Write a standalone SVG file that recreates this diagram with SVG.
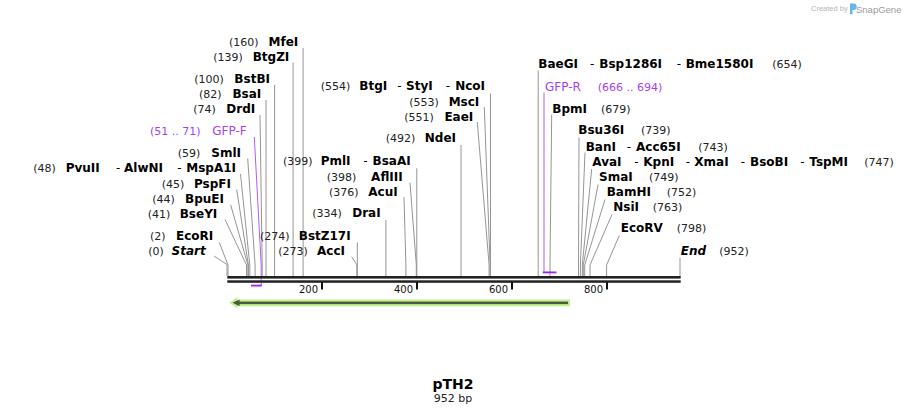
<svg xmlns="http://www.w3.org/2000/svg" width="908" height="415" viewBox="0 0 908 415">
<style>
text{font-family:"DejaVu Sans",Verdana,sans-serif}
.n{font-size:11px;fill:#222}
.e{font-size:12px;font-weight:bold;fill:#000}
.s{font-size:12px;fill:#000}
.i{font-size:12px;font-weight:bold;font-style:italic;fill:#000}
.p{font-size:12px;fill:#a43ff2}
.pn{font-size:11px;fill:#a43ff2}
.t{font-size:10px;fill:#111}
.l{stroke:#959595;stroke-width:1;fill:none}
.pl{stroke:#b05cf4;stroke-width:1;fill:none}
.r{text-anchor:end}
</style>
<rect width="908" height="415" fill="#fff"/>

<g id="watermark">
<text x="811" y="10.5" style="font-family:'Liberation Sans',Arial,sans-serif;font-size:7.5px;fill:#b5b5b5">Created by</text>
<path d="M850,3.5 h3.5 a3.2,3.2 0 0 1 0,6.4 h-1 v4.3 h-2.5 z" fill="#62b6ea"/>
<text x="856" y="12.5" style="font-family:'Liberation Sans',Arial,sans-serif;font-size:9.5px;fill:#9a9a9a">SnapGene</text>
</g>

<g id="connectors">
<polyline class="l" points="303.1,48 303.1,276"/>
<polyline class="l" points="293.1,62.5 293.1,276"/>
<polyline class="l" points="274.6,85 274.6,276"/>
<polyline class="l" points="266,100 266,276"/>
<polyline class="l" points="260,115 262.2,265 262.2,276"/>
<polyline class="l" points="247.7,158.5 255.1,265 255.1,276"/>
<polyline class="l" points="240.5,174 249.8,265 249.8,276"/>
<polyline class="l" points="236.7,189.5 248.4,265 248.4,276"/>
<polyline class="l" points="230.7,205 247.9,265 247.9,276"/>
<polyline class="l" points="225,219.5 246.5,265 246.5,276"/>
<polyline class="l" points="219.3,242.5 228,265 228,276"/>
<polyline class="l" points="214,256 227,264.5 227,276"/>
<polyline class="l" points="357.3,242.5 357.3,276"/>
<polyline class="l" points="351.7,256.7 356.9,265 356.9,276"/>
<polyline class="l" points="385.9,220 385.9,276"/>
<polyline class="l" points="404,197 405.9,265 405.9,276"/>
<polyline class="l" points="410,182.7 416.3,265 416.3,276"/>
<polyline class="l" points="416.8,168.3 416.8,276"/>
<polyline class="l" points="461,145 461,276"/>
<polyline class="l" points="477.3,122 489.1,265 489.1,276"/>
<polyline class="l" points="484.3,107 490.1,265 490.1,276"/>
<polyline class="l" points="490.5,93.5 490.5,276"/>
<polyline class="l" points="538.2,70.5 538.2,276"/>
<polyline class="l" points="551.7,114.5 550,265 550,276"/>
<polyline class="l" points="579,137.5 578.5,265 578.5,276"/>
<polyline class="l" points="585,152.5 580.4,265 580.4,276"/>
<polyline class="l" points="591.7,169 582.3,265 582.3,276"/>
<polyline class="l" points="598,184.5 583.3,265 583.3,276"/>
<polyline class="l" points="605,199.5 584.7,265 584.7,276"/>
<polyline class="l" points="612,214.5 590,265 590,276"/>
<polyline class="l" points="619.3,235.5 606.6,265 606.6,276"/>
<polyline class="l" points="680,258 680,276"/>
<polyline class="pl" points="254.3,137 261.2,265 261.2,286"/>
<polyline class="pl" points="544,92.5 544,272"/>
</g>

<g id="sequence">
<rect x="227.3" y="276" width="453.4" height="2.6" fill="#222"/>
<rect x="227.3" y="280.3" width="453.4" height="2.5" fill="#222"/>
<rect x="321" y="282" width="2" height="7.5" fill="#111"/>
<rect x="416" y="282" width="2" height="7.5" fill="#111"/>
<rect x="511" y="282" width="2" height="7.5" fill="#111"/>
<rect x="606" y="282" width="2" height="7.5" fill="#111"/>
<text class="t r" x="318" y="292.5">200</text>
<text class="t r" x="413" y="292.5">400</text>
<text class="t r" x="508" y="292.5">600</text>
<text class="t r" x="603" y="292.5">800</text>
</g>

<g id="primer-GFP-F">
<line x1="251" y1="285.6" x2="261.7" y2="285.6" stroke="#a020f0" stroke-width="1.8"/>
<text class="pn" x="150" y="135">(51 .. 71)</text>
<text class="p r" x="246.7" y="135">GFP-F</text>
</g>
<g id="primer-GFP-R">
<line x1="542.8" y1="272.4" x2="556.5" y2="272.4" stroke="#a020f0" stroke-width="1.8"/>
<text class="p" x="545" y="90.7">GFP-R</text>
<text class="pn" x="597.7" y="90.7">(666 .. 694)</text>
</g>

<g id="feature-arrow">
<polygon points="229.5,302.8 237.5,296.8 237.5,299.4 570,299.4 570,306.2 237.5,306.2 237.5,308.8" fill="#c2f08e"/>
<polygon points="232.5,302.8 239.5,299.4 239.5,306.2" fill="#4b5943"/>
<rect x="238" y="301.6" width="330" height="2.5" fill="#4b5943"/>
</g>

<g id="MfeI"><text class="n" x="229" y="46">(160)</text><text class="e r" x="298.3" y="46">MfeI</text></g>
<g id="BtgZI"><text class="n" x="213.3" y="60.7">(139)</text><text class="e r" x="289.3" y="60.7">BtgZI</text></g>
<g id="BstBI"><text class="n" x="194.3" y="83.3">(100)</text><text class="e r" x="270" y="83.3">BstBI</text></g>
<g id="BsaI"><text class="n" x="199" y="98.3">(82)</text><text class="e r" x="261.3" y="98.3">BsaI</text></g>
<g id="DrdI"><text class="n" x="193.3" y="113.3">(74)</text><text class="e r" x="255.3" y="113.3">DrdI</text></g>
<g id="SmlI"><text class="n" x="177.7" y="157.3">(59)</text><text class="e r" x="241" y="157.3">SmlI</text></g>
<g id="PvuII"><text class="n" x="33.3" y="172.3">(48)</text><text class="e" x="65.7" y="172.3">PvuII</text><text class="s" x="116" y="172.3">-</text><text class="e" x="124" y="172.3">AlwNI</text><text class="s" x="177.3" y="172.3">-</text><text class="e r" x="236" y="172.3">MspA1I</text></g>
<g id="PspFI"><text class="n" x="161.7" y="187.7">(45)</text><text class="e r" x="231" y="187.7">PspFI</text></g>
<g id="BpuEI"><text class="n" x="152.3" y="202.7">(44)</text><text class="e r" x="224" y="202.7">BpuEI</text></g>
<g id="BseYI"><text class="n" x="147.7" y="217.7">(41)</text><text class="e r" x="217.3" y="217.7">BseYI</text></g>
<g id="EcoRI"><text class="n" x="150" y="240">(2)</text><text class="e r" x="213.3" y="240">EcoRI</text></g>
<g id="Start"><text class="n" x="148.3" y="255">(0)</text><text class="i r" x="205.7" y="255">Start</text></g>

<g id="BstZ17I"><text class="n" x="260" y="240">(274)</text><text class="e r" x="350.7" y="240">BstZ17I</text></g>
<g id="AccI"><text class="n" x="278.3" y="255">(273)</text><text class="e r" x="345" y="255">AccI</text></g>
<g id="DraI"><text class="n" x="312.3" y="217.3">(334)</text><text class="e r" x="380.7" y="217.3">DraI</text></g>
<g id="AcuI"><text class="n" x="329" y="195.7">(376)</text><text class="e r" x="397.7" y="195.7">AcuI</text></g>
<g id="AflIII"><text class="n" x="326.7" y="180.7">(398)</text><text class="e r" x="402.7" y="180.7">AflIII</text></g>
<g id="PmlI"><text class="n" x="283" y="165">(399)</text><text class="e" x="320.7" y="165">PmlI</text><text class="s" x="363.3" y="165">-</text><text class="e r" x="410.7" y="165">BsaAI</text></g>
<g id="NdeI"><text class="n" x="385.7" y="142.3">(492)</text><text class="e r" x="456" y="142.3">NdeI</text></g>
<g id="EaeI"><text class="n" x="404.3" y="120.7">(551)</text><text class="e r" x="473.3" y="120.7">EaeI</text></g>
<g id="MscI"><text class="n" x="409.3" y="105.7">(553)</text><text class="e r" x="479.3" y="105.7">MscI</text></g>
<g id="NcoI"><text class="n" x="320.7" y="90">(554)</text><text class="e" x="359.3" y="90">BtgI</text><text class="s" x="397.3" y="90">-</text><text class="e" x="406" y="90">StyI</text><text class="s" x="445.7" y="90">-</text><text class="e r" x="485" y="90">NcoI</text></g>

<g id="BaeGI"><text class="e" x="538.3" y="67.7">BaeGI</text><text class="s" x="590" y="67.7">-</text><text class="e" x="599.3" y="67.7">Bsp1286I</text><text class="s" x="676.7" y="67.7">-</text><text class="e" x="685.7" y="67.7">Bme1580I</text><text class="n" x="772.3" y="67.7">(654)</text></g>
<g id="BpmI"><text class="e" x="552.3" y="112.7">BpmI</text><text class="n" x="601" y="112.7">(679)</text></g>
<g id="Bsu36I"><text class="e" x="578.3" y="134.3">Bsu36I</text><text class="n" x="641" y="134.3">(739)</text></g>
<g id="BanI"><text class="e" x="585.7" y="150.7">BanI</text><text class="s" x="626.7" y="150.7">-</text><text class="e" x="636" y="150.7">Acc65I</text><text class="n" x="698.3" y="150.7">(743)</text></g>
<g id="AvaI"><text class="e" x="592.3" y="165.7">AvaI</text><text class="s" x="634.3" y="165.7">-</text><text class="e" x="643.3" y="165.7">KpnI</text><text class="s" x="685.7" y="165.7">-</text><text class="e" x="694.3" y="165.7">XmaI</text><text class="s" x="740.7" y="165.7">-</text><text class="e" x="750" y="165.7">BsoBI</text><text class="s" x="800.3" y="165.7">-</text><text class="e" x="809.3" y="165.7">TspMI</text><text class="n" x="864.3" y="165.7">(747)</text></g>
<g id="SmaI"><text class="e" x="599" y="180.7">SmaI</text><text class="n" x="649" y="180.7">(749)</text></g>
<g id="BamHI"><text class="e" x="606.7" y="195.7">BamHI</text><text class="n" x="666.7" y="195.7">(752)</text></g>
<g id="NsiI"><text class="e" x="613.3" y="210.7">NsiI</text><text class="n" x="652.7" y="210.7">(763)</text></g>
<g id="EcoRV"><text class="e" x="620.7" y="232.3">EcoRV</text><text class="n" x="676.7" y="232.3">(798)</text></g>
<g id="End"><text class="i" x="680.7" y="255">End</text><text class="n" x="719.3" y="255">(952)</text></g>

<g id="title">
<text x="453" y="389" text-anchor="middle" style="font-size:14px;font-weight:bold;fill:#000">pTH2</text>
<text x="453" y="402" text-anchor="middle" style="font-size:11px;fill:#222">952 bp</text>
</g>
</svg>
